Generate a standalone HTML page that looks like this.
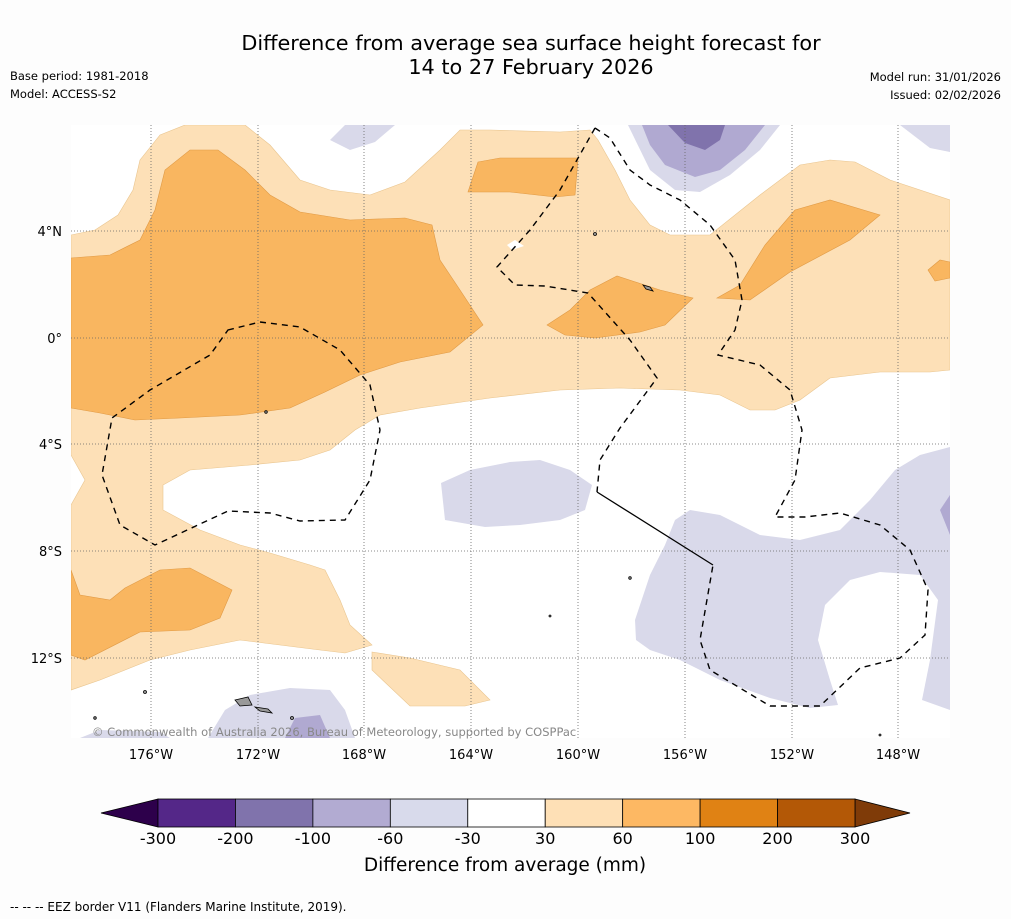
<!DOCTYPE html>
<html><head><meta charset="utf-8">
<style>
body{margin:0;background:#fff;font-family:"DejaVu Sans","Liberation Sans",sans-serif;}
svg text{font-family:"DejaVu Sans","Liberation Sans",sans-serif;}
</style></head>
<body>
<svg width="1011" height="919" viewBox="0 0 1011 919" xmlns="http://www.w3.org/2000/svg">
<rect x="0" y="0" width="1011" height="919" fill="#fdfdfd"/>
<text x="531" y="50" font-size="20.8" text-anchor="middle">Difference from average sea surface height forecast for</text>
<text x="531" y="74" font-size="20.8" text-anchor="middle">14 to 27 February 2026</text>
<text x="10" y="80" font-size="11.5">Base period: 1981-2018</text>
<text x="10" y="98" font-size="11.5">Model: ACCESS-S2</text>
<text x="1001" y="81" font-size="11.5" text-anchor="end">Model run: 31/01/2026</text>
<text x="1001" y="99" font-size="11.5" text-anchor="end">Issued: 02/02/2026</text>

<g>
<rect x="71" y="125" width="879" height="613" fill="#fff"/>
<clipPath id="mc"><rect x="71" y="125" width="879" height="613"/></clipPath>
<g clip-path="url(#mc)">
<g fill="#fde0b7" stroke="#e9c58f" stroke-width="0.6">
<polygon points="71,235 95,230 118,215 133,190 140,160 160,135 185,125 245,125 270,145 300,180 330,190 370,195 405,182 440,150 460,130 490,130 560,132 590,130 598,140 615,170 630,200 650,225 670,235 710,235 735,215 760,195 800,165 830,160 855,162 890,180 950,200 950,370 930,372 880,372 830,378 800,400 775,410 750,410 720,395 680,390 620,388 560,390 490,398 420,408 380,415 355,430 330,450 300,460 250,465 190,470 163,485 163,510 200,530 240,545 270,553 310,565 325,570 340,600 350,625 372,645 345,653 320,650 280,645 240,640 190,650 150,660 100,680 71,690 71,505 85,480 71,455"/>
<polygon points="372,652 410,658 460,670 490,700 465,706 410,706 372,670"/>
</g>
<polygon points="507,245 515,240 524,246 512,250" fill="#fff"/>
<g fill="#f9b660" stroke="#e09a45" stroke-width="0.6">
<polygon points="71,258 110,255 140,240 155,210 165,170 190,150 218,150 245,170 270,195 300,212 350,220 405,218 432,225 440,260 460,290 483,325 450,352 400,362 360,375 325,392 290,408 240,415 180,418 135,420 100,413 71,408"/>
<polygon points="478,162 500,158 578,158 575,195 555,197 510,192 468,192"/>
<polygon points="547,325 570,310 590,290 617,276 660,290 693,298 665,325 640,332 595,338 565,335"/>
<polygon points="717,298 740,285 765,245 795,210 830,200 880,215 850,240 790,272 750,300"/>
<polygon points="928,270 940,260 950,262 950,278 935,281"/>
<polygon points="71,570 80,595 110,600 125,588 160,570 190,568 232,590 220,618 190,630 140,632 85,660 71,655"/>
</g>
<g fill="#d9d9ea">
<polygon points="330,140 345,125 395,125 375,142 350,150"/>
<polygon points="628,125 780,125 760,150 730,175 700,192 675,190 650,170"/>
<polygon points="900,125 950,125 950,152 930,148"/>
<polygon points="441,483 470,470 510,462 540,460 570,470 592,485 585,510 560,520 520,525 485,527 445,520"/>
<polygon points="635,620 650,575 665,545 675,520 690,510 720,515 760,535 800,540 840,530 870,500 895,470 920,455 950,447 950,710 922,700 930,660 938,600 920,575 880,572 850,580 825,605 818,640 830,680 838,705 810,708 770,698 720,680 680,660 650,650 636,640"/>
<polygon points="208,738 225,710 250,695 290,688 330,690 345,710 355,738"/>
<polygon points="80,738 100,730 160,732 170,738"/>
</g>
<g fill="#b0a9d1">
<polygon points="642,125 765,125 745,150 720,170 695,177 665,165 650,145"/>
<polygon points="940,510 950,495 950,535"/>
<polygon points="285,738 295,718 320,715 330,738"/>
</g>
<polygon points="668,125 725,125 720,140 705,150 685,143" fill="#8073ac"/>
<g stroke="#666" stroke-width="0.8" stroke-dasharray="1,2">
<line x1="151" y1="125" x2="151" y2="738"/><line x1="258" y1="125" x2="258" y2="738"/><line x1="364" y1="125" x2="364" y2="738"/><line x1="471" y1="125" x2="471" y2="738"/><line x1="578" y1="125" x2="578" y2="738"/><line x1="685" y1="125" x2="685" y2="738"/><line x1="792" y1="125" x2="792" y2="738"/><line x1="898" y1="125" x2="898" y2="738"/>
<line x1="71" y1="231" x2="950" y2="231"/><line x1="71" y1="338" x2="950" y2="338"/><line x1="71" y1="444" x2="950" y2="444"/><line x1="71" y1="551" x2="950" y2="551"/><line x1="71" y1="658" x2="950" y2="658"/>
</g>
<g fill="none" stroke="#000" stroke-width="1.4" stroke-dasharray="6,5">
<path d="M228,330 L260,322 300,327 340,350 370,385 380,430 370,480 345,520 300,521 270,513 228,511 155,545 120,525 102,475 112,418 150,390 210,355 Z"/>
<path d="M595,128 L610,138 630,170 650,185 680,200 710,225 735,260 742,300 735,330 718,355 760,365 790,390 802,430 795,480 775,517 805,517 840,513 880,525 910,550 928,590 925,635 900,658 860,668 820,706 770,706 710,670 700,640 713,565"/>
<path d="M595,128 L560,190 530,230 497,267 515,285 545,286 588,293 630,340 657,378 620,428 600,460 597,492"/>
</g>
<line x1="597" y1="492" x2="713" y2="565" stroke="#000" stroke-width="1.3"/>
<g fill="#999" stroke="#000" stroke-width="0.8">
<polygon points="235,700 248,697 252,705 240,706"/>
<polygon points="255,707 268,709 272,713 260,711"/>
<polygon points="643,285 650,287 653,291 646,289"/>
<circle cx="595" cy="234" r="1.5"/><circle cx="266" cy="412" r="1.3"/><circle cx="145" cy="692" r="1.5"/><circle cx="95" cy="718" r="1.3"/><circle cx="550" cy="616" r="1"/><circle cx="630" cy="578" r="1.3"/><circle cx="292" cy="718" r="1.5"/><circle cx="880" cy="735" r="1"/>
</g>
</g>
<text x="92" y="736" font-size="11.5" fill="#888">© Commonwealth of Australia 2026, Bureau of Meteorology, supported by COSPPac</text>
</g>

<g font-size="13">
<text x="62" y="236" text-anchor="end">4°N</text><text x="62" y="343" text-anchor="end">0°</text><text x="62" y="449" text-anchor="end">4°S</text><text x="62" y="556" text-anchor="end">8°S</text><text x="62" y="663" text-anchor="end">12°S</text>
</g>
<g font-size="13" text-anchor="middle">
<text x="151" y="759">176°W</text><text x="258" y="759">172°W</text><text x="364" y="759">168°W</text><text x="471" y="759">164°W</text><text x="578" y="759">160°W</text><text x="685" y="759">156°W</text><text x="792" y="759">152°W</text><text x="898" y="759">148°W</text>
</g>

<g id="cbar"></g>
<text x="505" y="871" font-size="18.5" text-anchor="middle">Difference from average (mm)</text>
<text x="10" y="911" font-size="12">--  --  -- EEZ border V11 (Flanders Marine Institute, 2019).</text>
</svg>
<script>
const binColors = ["#542788","#8073ac","#b2abd2","#d8daeb","#ffffff","#fee0b6","#fdb863","#e08214","#b35806"];
const tickLabels = ["-300","-200","-100","-60","-30","30","60","100","200","300"];
const lowExtendColor = "#2d004b";
const highExtendColor = "#7f3b08";
const g = document.getElementById('cbar');
const NS = "http://www.w3.org/2000/svg";
const x0 = 158, x1 = 855, y0 = 799, h = 28;
const w = (x1 - x0) / binColors.length;
function mk(tag, attrs){const e=document.createElementNS(NS,tag);for(const k in attrs)e.setAttribute(k,attrs[k]);g.appendChild(e);return e;}
const lo = mk('polygon',{points:`${x0},${y0} ${x0},${y0+h} 101,${y0+h/2}`,fill:lowExtendColor,stroke:'#000','stroke-width':0.8});


const hi = mk('polygon',{points:`${x1},${y0} ${x1},${y0+h} 910,${y0+h/2}`,fill:highExtendColor,stroke:'#000','stroke-width':0.8});


binColors.forEach((c,i)=>{
  const r = mk('rect',{x:x0+i*w,y:y0,width:w,height:h,fill:c,stroke:'#000','stroke-width':0.8});
  
  
});
tickLabels.forEach((t,i)=>{
  const tx = mk('text',{x:x0+i*w,y:844,'font-size':16,'text-anchor':'middle'});
  tx.textContent = t;
  
  
});
</script>
</body></html>
